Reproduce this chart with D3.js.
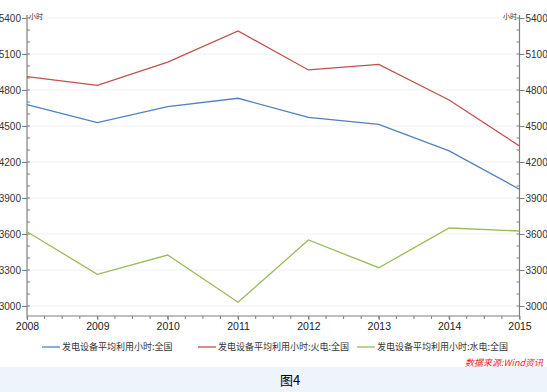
<!DOCTYPE html>
<html><head><meta charset="utf-8">
<script src="https://cdn.jsdelivr.net/npm/d3@7"></script>
<style>
html,body{margin:0;padding:0;background:#fff;}
svg{display:block;}
</style></head>
<body>
<svg id="chart" width="547" height="392"></svg>
<script>
const years = [2008, 2009, 2010, 2011, 2012, 2013, 2014, 2015];
const seriesNames = ["发电设备平均利用小时:全国", "发电设备平均利用小时:火电:全国", "发电设备平均利用小时:水电:全国"];
const totalHours = [4678, 4528, 4661, 4731, 4572, 4514, 4292, 3973];
const thermalHours = [4911, 4839, 5033, 5292, 4967, 5014, 4717, 4333];
const hydroHours = [3619, 3264, 3425, 3031, 3550, 3319, 3650, 3625];
const yTicks = [3000, 3300, 3600, 3900, 4200, 4500, 4800, 5100, 5400];
const colors = ["#4f81bd", "#c0504d", "#9bbb59"];

const svg = d3.select("#chart");
const numFont = "'Liberation Sans Narrow','Arial Narrow','Liberation Sans',sans-serif";
const cjkFont = "'Noto Sans CJK SC',sans-serif";

// bottom caption strip
svg.append("rect").attr("x",0).attr("y",367).attr("width",547).attr("height",25).attr("fill","#eef4fb");

const x = d3.scaleLinear().domain([2008, 2015]).range([27, 519.5]);
const y = d3.scaleLinear().domain([3000, 5400]).range([306, 18]);

// gridlines
svg.append("g").selectAll("line").data(yTicks).join("line")
  .attr("x1", 27).attr("x2", 519.5)
  .attr("y1", d => y(d)).attr("y2", d => y(d))
  .attr("stroke", "#f1f1f1").attr("stroke-width", 1);

const axisColor = "#7f7f7f";
const minorY = d3.range(3000, 5401, 100);
const minorX = d3.range(2008, 2015.01, 0.25);

// left axis
const gl = svg.append("g").attr("transform","translate(27,0)")
  .call(d3.axisLeft(y).tickValues(yTicks).tickSize(5).tickPadding(1).tickFormat(d3.format("d")));
gl.select(".domain").attr("d", `M0,${y(3000)+10}V15`);
gl.append("g").selectAll("line").data(minorY).join("line")
  .attr("x1",0).attr("x2",3).attr("y1",d=>y(d)).attr("y2",d=>y(d)).attr("stroke",axisColor);

// right axis
const gr = svg.append("g").attr("transform","translate(519.5,0)")
  .call(d3.axisRight(y).tickValues(yTicks).tickSize(5).tickPadding(1).tickFormat(d3.format("d")));
gr.select(".domain").attr("d", `M0,${y(3000)+10}V15`);
gr.append("g").selectAll("line").data(minorY).join("line")
  .attr("x1",0).attr("x2",-3).attr("y1",d=>y(d)).attr("y2",d=>y(d)).attr("stroke",axisColor);

// bottom axis
const gb = svg.append("g").attr("transform","translate(0,316)")
  .call(d3.axisBottom(x).tickValues(years).tickSize(4).tickPadding(3).tickFormat(d3.format("d")));
gb.select(".domain").attr("d", "M27,0H519.5");
gb.append("g").selectAll("line").data(minorX).join("line")
  .attr("x1",d=>x(d)).attr("x2",d=>x(d)).attr("y1",0).attr("y2",3).attr("stroke",axisColor);

[gl, gr, gb].forEach(g => {
  g.selectAll(".domain").attr("stroke", axisColor).attr("stroke-width", 1.2);
  g.selectAll(".tick line").attr("stroke", axisColor);
  g.selectAll("text").attr("font-family", numFont).attr("font-size", 10).attr("fill", "#333");
});
gb.selectAll("text").attr("font-size", 10.5).attr("fill","#1a1a1a");

// unit labels
svg.append("text").attr("x",29).attr("y",19).text("小时")
  .attr("font-family",cjkFont).attr("font-size",7).attr("fill","#333");
svg.append("text").attr("x",517).attr("y",19).attr("text-anchor","end").text("小时")
  .attr("font-family",cjkFont).attr("font-size",7).attr("fill","#333");

// lines
const allSeries = [totalHours, thermalHours, hydroHours];
const line = d3.line().x((d,i) => x(years[i])).y(d => y(d));
svg.append("g").selectAll("path").data(allSeries).join("path")
  .attr("d", line).attr("fill","none")
  .attr("stroke", (d,i) => colors[i]).attr("stroke-width", 1.3);

// legend
const legendX = [42, 198, 357];
const lg = svg.append("g").selectAll("g").data(seriesNames).join("g")
  .attr("transform",(d,i)=>`translate(${legendX[i]},347)`);
lg.append("line").attr("x1",0).attr("x2",18).attr("y1",0).attr("y2",0)
  .attr("stroke",(d,i)=>colors[i]).attr("stroke-width",1.3);
lg.append("text").attr("x",20).attr("y",3.2).text(d=>d)
  .attr("font-family",cjkFont).attr("font-size",9).attr("fill","#333");

// source
svg.append("text").attr("x",543).attr("y",366).attr("text-anchor","end")
  .text("数据来源:Wind资讯").attr("font-family",cjkFont).attr("font-size",9)
  .attr("font-style","italic").attr("fill","#e8262b");

// caption
svg.append("text").attr("x",280).attr("y",385).text("图4")
  .attr("font-family","'Noto Sans CJK SC','Liberation Serif',serif").attr("font-size",13).attr("fill","#000");
</script>
</body></html>
